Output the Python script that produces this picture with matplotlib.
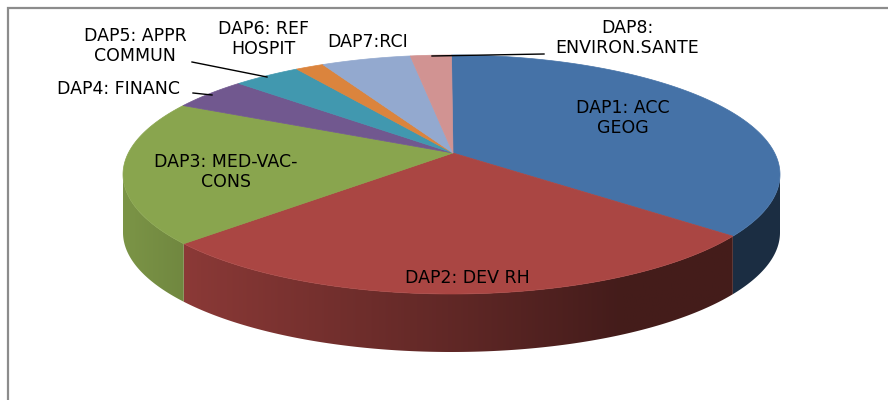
import numpy as np
import matplotlib
matplotlib.use("Agg")
import matplotlib.pyplot as plt
import matplotlib.colors as mcolors
from matplotlib.patches import Polygon

# share of each DAP (percent)
labels = [
    "DAP1: ACC\nGEOG",
    "DAP2: DEV RH",
    "DAP3: MED-VAC-\nCONS",
    "DAP4: FINANC",
    "DAP5: APPR\nCOMMUN",
    "DAP6: REF\nHOSPIT",
    "DAP7:RCI",
    "DAP8:\nENVIRON.SANTE",
]
values = [33.6, 31.5, 19.6, 4.0, 3.4, 1.4, 4.4, 2.0]
colors = ["#4572A7", "#AA4643", "#89A54E", "#71588F",
          "#4198AF", "#DB843D", "#93A9CF", "#D19392"]

# layout (pixel coords, y down)
W, H = 888, 400
cx, cy = 451.5, 174.5      # centre of the top ellipse
a, b = 328.5, 119.5        # semi axes
apex = (453, 153)          # where the slices meet (perspective)
depth = 58

label_pos = [(623, 118), (467, 278), (226, 172), (118, 89),
             (135, 46), (263, 39), (368, 42), (627, 38)]
leaders = {3: [(193, 93), (212, 95)],
           4: [(192, 62), (267, 77)],
           7: [(432, 56), (544, 54)]}


def rim(t, dy=0.0):
    t = np.radians(t)
    return cx + a * np.sin(t), cy - b * np.cos(t) + dy


def shade(x):
    return np.interp(x, [123, 200, 470, 620, 780], [0.9, 0.8, 0.55, 0.40, 0.40])


fig = plt.figure(figsize=(W / 100, H / 100), dpi=100)
ax = fig.add_axes([0, 0, 1, 1])
ax.axis("off")

bounds = np.concatenate([[0], np.cumsum(values) / np.sum(values) * 360])

# side walls, front half only, filled with a left-to-right shading
for i, col in enumerate(colors):
    t0, t1 = max(bounds[i], 90), min(bounds[i + 1], 270)
    if t1 <= t0:
        continue
    ts = np.linspace(t0, t1, 200)
    xs, ys = rim(ts)
    xb, yb = rim(ts[::-1], depth)
    side = Polygon(np.column_stack([np.r_[xs, xb], np.r_[ys, yb]]),
                   closed=True, facecolor="none", edgecolor="none")
    ax.add_patch(side)
    x0, x1 = xs.min() - 1, xs.max() + 1
    gx = np.linspace(x0, x1, 256)
    grad = np.array(mcolors.to_rgb(col))[None, :] * shade(gx)[:, None]
    img = ax.imshow(grad[None, :, :], extent=(x0, x1, ys.max() + depth + 2, ys.min() - 2),
                    aspect="auto", interpolation="bilinear")
    img.set_clip_path(side)

# top faces
for i, col in enumerate(colors):
    ts = np.linspace(bounds[i], bounds[i + 1], max(int(bounds[i + 1] - bounds[i]) * 2, 4))
    xs, ys = rim(ts)
    pts = np.column_stack([np.r_[apex[0], xs], np.r_[apex[1], ys]])
    ax.add_patch(Polygon(pts, closed=True, facecolor=col, edgecolor=col, lw=0.5))

for i, txt in enumerate(labels):
    x, y = label_pos[i]
    ax.text(x, y, txt, ha="center", va="center", fontsize=12.5,
            family=["DejaVu Sans"], color="black", linespacing=1.15)

for pts in leaders.values():
    (x0, y0), (x1, y1) = pts
    ax.plot([x0, x1], [y0, y1], color="black", lw=1)

# chart frame
ax.plot([8, 8, W], [H, 8, 8], color="#8c8c8c", lw=1.6, solid_joinstyle="miter")

ax.set_xlim(0, W)
ax.set_ylim(H, 0)

fig.savefig("out.png", dpi=100)
